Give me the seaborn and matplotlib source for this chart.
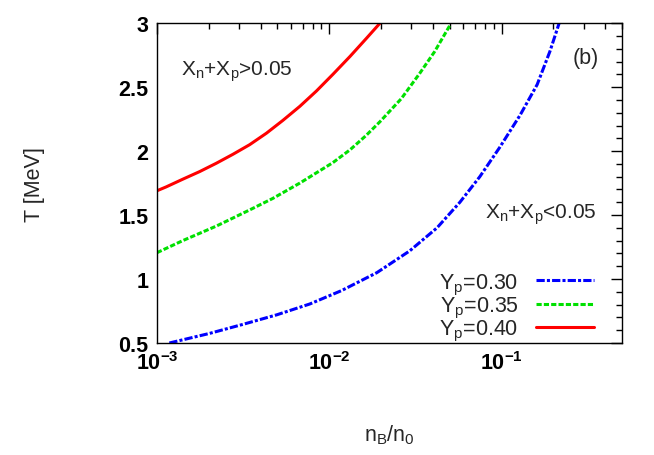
import pandas as pd
import seaborn as sns
import matplotlib
matplotlib.use("Agg")
import matplotlib.pyplot as plt
from matplotlib.ticker import FixedLocator, NullFormatter, MultipleLocator

# curves: n_B/n_0 vs T [MeV]
nb_030 = [1.18e-3, 2.02e-3, 3.14e-3, 4.95e-3, 7.71e-3, 1.18e-2, 1.89e-2, 2.93e-2,
          4.22e-2, 5.73e-2, 7.48e-2, 9.77e-2, 0.128, 0.161, 0.191, 0.216]
T_030 = [0.50, 0.575, 0.645, 0.72, 0.805, 0.91, 1.05, 1.22,
         1.40, 1.60, 1.80, 2.03, 2.28, 2.52, 2.78, 3.00]

nb_035 = [1.0e-3, 1.41e-3, 2.22e-3, 3.45e-3, 4.70e-3, 6.75e-3, 1.05e-2, 1.32e-2,
          1.63e-2, 1.97e-2, 2.62e-2, 3.36e-2, 4.10e-2, 5.0e-2]
T_035 = [1.206, 1.30, 1.415, 1.54, 1.63, 1.75, 1.91, 2.01,
         2.12, 2.23, 2.41, 2.61, 2.78, 2.98]

nb_040 = [1.0e-3, 1.13e-3, 1.41e-3, 1.77e-3, 2.21e-3, 2.76e-3, 3.45e-3, 4.32e-3,
          5.38e-3, 6.75e-3, 8.43e-3, 1.05e-2, 1.32e-2, 1.64e-2, 1.97e-2]
T_040 = [1.69, 1.72, 1.78, 1.84, 1.905, 1.975, 2.05, 2.14,
         2.24, 2.35, 2.47, 2.60, 2.74, 2.88, 3.00]

labels = ["Y$_p$=0.30", "Y$_p$=0.35", "Y$_p$=0.40"]
colors = ["#0000ff", "#00e000", "#ff0000"]
styles = [(0, (2.7, 0.7, 1, 0.7)), (0, (1.7, 0.7)), "-"]

sns.set_style("white")
plt.rcParams["font.family"] = ["Liberation Sans", "DejaVu Sans"]
plt.rcParams["mathtext.fontset"] = "custom"
plt.rcParams["mathtext.rm"] = "Liberation Sans"
plt.rcParams["mathtext.it"] = "Liberation Sans"
plt.rcParams["mathtext.bf"] = "Liberation Sans:bold"

fig = plt.figure(figsize=(6.54, 4.56), dpi=100)
ax = fig.add_subplot()
fig.subplots_adjust(left=0.240, right=0.951, top=0.947, bottom=0.2456)

series = [(nb_030, T_030), (nb_035, T_035), (nb_040, T_040)]
for (xs, ys), lab, c, ls in zip(series, labels, colors, styles):
    df = pd.DataFrame({"nB": xs, "T": ys})
    sns.lineplot(data=df, x="nB", y="T", ax=ax, color=c, linestyle=ls,
                 linewidth=2.2, label=lab, sort=True)

ax.set_xscale("log")
ax.set_xlim(1e-3, 0.5)
ax.set_ylim(0.5, 3)

ax.xaxis.set_major_locator(FixedLocator([1e-3, 1e-2, 1e-1]))
ax.set_xticklabels([r"$\mathbf{10^{-3}}$", r"$\mathbf{10^{-2}}$", r"$\mathbf{10^{-1}}$"])
minors = [m * 10.0**e for e in (-3, -2, -1) for m in range(2, 10)]
ax.xaxis.set_minor_locator(FixedLocator([v for v in minors if v <= 0.5]))
ax.xaxis.set_minor_formatter(NullFormatter())
ax.yaxis.set_minor_locator(MultipleLocator(0.1))
ax.set_yticks([0.5, 1, 1.5, 2, 2.5, 3])
ax.set_yticklabels(["0.5", "1", "1.5", "2", "2.5", "3"])

ax.tick_params(which="both", direction="in", top=True, right=True, width=1, colors="black")
ax.tick_params(which="major", length=8, labelsize=15.5, pad=6)
ax.tick_params(which="minor", length=4)
for t in ax.get_yticklabels():
    t.set_fontweight("bold")
for s in ax.spines.values():
    s.set_color("black")
    s.set_linewidth(1)

ax.set_xlabel("n$_B$/n$_0$", fontsize=15.5)
ax.set_ylabel("T [MeV]", fontsize=15.5)
ax.xaxis.set_label_coords(0.5, -0.247)
ax.yaxis.set_label_coords(-0.241, 0.5)

ax.text(0.052, 0.85, "X$_n$+X$_p$>0.05", transform=ax.transAxes, fontsize=15,
        ha="left", va="center")
ax.text(0.946, 0.403, "X$_n$+X$_p$<0.05", transform=ax.transAxes, fontsize=15,
        ha="right", va="center")
ax.text(0.95, 0.894, "(b)", transform=ax.transAxes, fontsize=15.5, ha="right", va="center")

ax.legend(loc="lower right", bbox_to_anchor=(0.977, -0.055), frameon=False,
          markerfirst=False, fontsize=15.5, handlelength=2.7, labelspacing=-0.08,
          handletextpad=0.8, borderpad=0.3)

fig.savefig("out.png", dpi=100)
